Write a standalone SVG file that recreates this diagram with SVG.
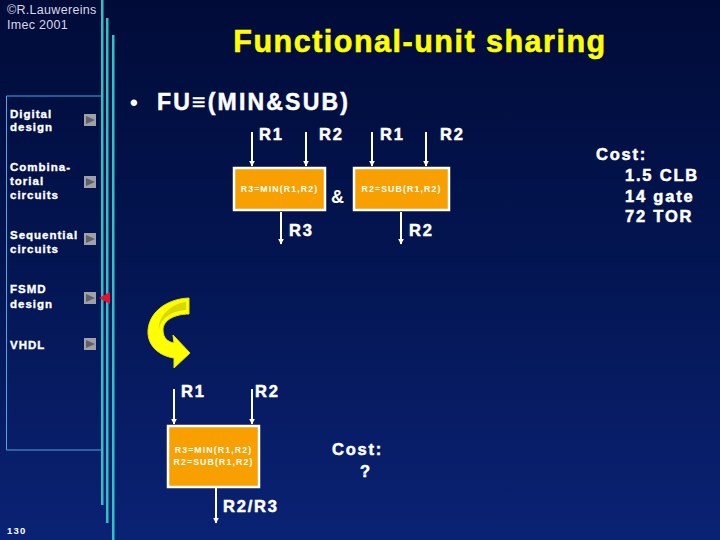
<svg xmlns="http://www.w3.org/2000/svg" width="720" height="540" viewBox="0 0 720 540">
<defs>
<linearGradient id="bg" x1="0" y1="0" x2="0" y2="1">
<stop offset="0" stop-color="#000b38"/>
<stop offset="0.5" stop-color="#031552"/>
<stop offset="1" stop-color="#0a2274"/>
</linearGradient>
<marker id="ah" viewBox="0 0 10 10" refX="9" refY="5" markerWidth="6" markerHeight="6" markerUnits="userSpaceOnUse" orient="auto">
<path d="M0,0 L10,5 L0,10 Z" fill="#ffffff"/>
</marker>
<g id="btn">
<rect x="0" y="0" width="12" height="12" fill="#a0a0a8"/>
<path d="M2,2 L11,6 L2,10 Z" fill="#606068"/>
</g>
</defs>
<style>
.w{fill:#ffffff;font-family:"Liberation Sans",Arial,sans-serif;font-weight:bold}
.nav{font-size:11.5px;letter-spacing:1px;stroke:#ffffff;stroke-width:0.35}
.reg{font-size:16.5px;letter-spacing:1.8px;stroke:#ffffff;stroke-width:0.5}
.box{fill:#f7a000;stroke:#ffffff;stroke-width:2.5}
.bt{font-size:8.8px;letter-spacing:1.1px;text-anchor:middle}
.ar{stroke:#ffffff;stroke-width:2;fill:none;marker-end:url(#ah)}
.bar{fill:#30c0c8}
</style>
<rect width="720" height="540" fill="url(#bg)"/>
<rect class="bar" x="101" y="0" width="2.5" height="505"/>
<rect class="bar" x="106" y="18" width="2.5" height="505"/>
<rect class="bar" x="112" y="35" width="2.5" height="505"/>
<path d="M102,96 L6.5,96 L6.5,450 L102,450" fill="none" stroke="#4aa8e0" stroke-width="1"/>
<text x="7" y="14" style="fill:#d8d8e8;font-family:'Liberation Sans',Arial,sans-serif;font-size:12.5px;letter-spacing:0.3px">©R.Lauwereins</text>
<text x="7" y="29" style="fill:#d8d8e8;font-family:'Liberation Sans',Arial,sans-serif;font-size:12.5px;letter-spacing:0.3px">Imec 2001</text>
<g id="nav">
<text class="w nav" x="10" y="118">Digital</text>
<text class="w nav" x="10" y="131">design</text>
<use href="#btn" x="84" y="114"/>
<text class="w nav" x="10" y="171">Combina-</text>
<text class="w nav" x="10" y="185">torial</text>
<text class="w nav" x="10" y="199">circuits</text>
<use href="#btn" x="84" y="176"/>
<text class="w nav" x="10" y="239">Sequential</text>
<text class="w nav" x="10" y="253">circuits</text>
<use href="#btn" x="84" y="233"/>
<text class="w nav" x="10" y="293">FSMD</text>
<text class="w nav" x="10" y="308">design</text>
<use href="#btn" x="84" y="292"/>
<text class="w nav" x="10" y="349">VHDL</text>
<use href="#btn" x="84" y="338"/>
<path d="M99,298 L110,292 L110,304 Z" fill="#e8102a"/>
</g>
<text x="420" y="52" text-anchor="middle" style="fill:#ffff00;stroke:#ffff00;stroke-width:0.6;font-family:'Liberation Sans',Arial,sans-serif;font-weight:bold;font-size:30.5px;letter-spacing:1.5px">Functional-unit sharing</text>
<text class="w" x="130" y="110" style="font-size:22px">•</text>
<text class="w" x="157" y="110" style="font-size:23px;letter-spacing:2.2px;stroke:#ffffff;stroke-width:0.5">FU≡(MIN&amp;SUB)</text>
<g id="connectors">
<line class="ar" x1="252" y1="132" x2="252" y2="166"/>
<line class="ar" x1="306" y1="132" x2="306" y2="166"/>
<line class="ar" x1="372" y1="132" x2="372" y2="166"/>
<line class="ar" x1="426" y1="132" x2="426" y2="166"/>
<line class="ar" x1="281" y1="212" x2="281" y2="244"/>
<line class="ar" x1="401" y1="212" x2="401" y2="244"/>
<line class="ar" x1="174" y1="389" x2="174" y2="424"/>
<line class="ar" x1="252" y1="389" x2="252" y2="424"/>
<line class="ar" x1="216" y1="488" x2="216" y2="523"/>
</g>
<g id="min">
<rect class="box" x="234" y="168" width="91" height="42"/>
<text class="w bt" x="279.5" y="192">R3=MIN(R1,R2)</text>
</g>
<g id="sub">
<rect class="box" x="354" y="168" width="95" height="42"/>
<text class="w bt" x="401.5" y="192">R2=SUB(R1,R2)</text>
</g>
<text class="w" x="331" y="203" style="font-size:18px">&amp;</text>
<text class="w reg" x="259" y="140">R1</text>
<text class="w reg" x="319" y="140">R2</text>
<text class="w reg" x="380" y="140">R1</text>
<text class="w reg" x="440" y="140">R2</text>
<text class="w reg" x="289" y="236">R3</text>
<text class="w reg" x="409" y="236">R2</text>
<g id="curve">
<path d="M189,298 L189,314 C175,314 163,320 163,330 C163,338 168,342 174,343 L173,335 L190,353 L174,368 L174,358 C160,356 149,347 148,334 C147,314 165,299 189,298 Z" fill="#ffff00" stroke="#e8e800" stroke-width="1"/>
<path d="M186,302 L186,310 C172,311 160,318 159,330 C157,320 168,304 186,302 Z" fill="#d8d800"/>
</g>
<g id="shared">
<rect class="box" x="168" y="426" width="91" height="61"/>
<text class="w bt" x="213.5" y="453">R3=MIN(R1,R2)</text>
<text class="w bt" x="213.5" y="465">R2=SUB(R1,R2)</text>
</g>
<text class="w reg" x="181" y="397">R1</text>
<text class="w reg" x="255" y="397">R2</text>
<text class="w reg" x="223" y="512">R2/R3</text>
<text class="w reg" x="332" y="455">Cost:</text>
<text class="w reg" x="360" y="477">?</text>
<text class="w reg" x="596" y="160">Cost:</text>
<text class="w reg" x="625" y="181">1.5 CLB</text>
<text class="w reg" x="625" y="202">14 gate</text>
<text class="w reg" x="625" y="222">72 TOR</text>
<text class="w" x="7" y="534" style="font-size:9.5px;letter-spacing:1.2px">130</text>
</svg>
